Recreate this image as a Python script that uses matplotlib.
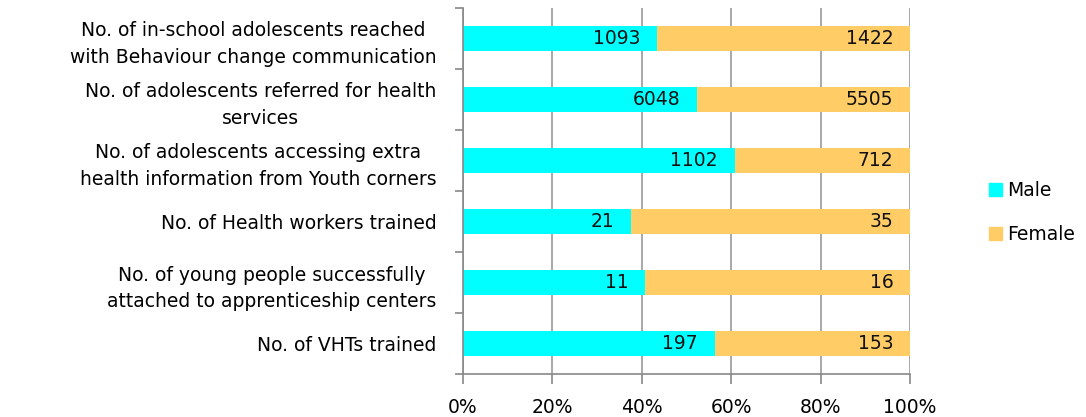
import matplotlib.pyplot as plt
import numpy as np
from matplotlib.patches import Patch
from matplotlib.ticker import PercentFormatter, FixedLocator

categories = [
    "No. of in-school adolescents reached\nwith Behaviour change communication",
    "No. of adolescents referred for health\nservices",
    "No. of adolescents accessing extra\nhealth information from Youth corners",
    "No. of Health workers trained",
    "No. of young people successfully\nattached to apprenticeship centers",
    "No. of VHTs trained",
]
male = [1093, 6048, 1102, 21, 11, 197]
female = [1422, 5505, 712, 35, 16, 153]

male_col = "#00FFFF"
female_col = "#FFCC66"

plt.rcParams["font.family"] = "DejaVu Sans"
fs = 13.5

fig = plt.figure(figsize=(10.86, 4.17), dpi=100)
ax = fig.add_axes([0.4263, 0.103, 0.4116, 0.878])

m = np.array(male, dtype=float)
f = np.array(female, dtype=float)
tot = m + f
mp = m / tot * 100
fp = f / tot * 100
y = np.arange(len(categories))[::-1]

ax.barh(y, mp, height=0.41, color=male_col, zorder=2)
ax.barh(y, fp, left=mp, height=0.41, color=female_col, zorder=2)

# value labels just inside the end of each segment
for yi, a, b, mv, fv in zip(y, mp, fp, male, female):
    ax.annotate(str(mv), (a, yi), xytext=(-12, 0), textcoords="offset points",
                ha="right", va="center", fontsize=fs, color="#111111", zorder=3)
    ax.annotate(str(fv), (a + b, yi), xytext=(-12, 0), textcoords="offset points",
                ha="right", va="center", fontsize=fs, color="#111111", zorder=3)

ax.set_xlim(0, 100)
ax.set_ylim(-0.5, len(categories) - 0.5)
ax.set_xticks([0, 20, 40, 60, 80, 100])
ax.xaxis.set_major_formatter(PercentFormatter(decimals=0))
ax.grid(axis="x", color="#999999", linewidth=1.2, zorder=0)
ax.set_yticks(y)
ax.set_yticklabels(categories, fontsize=fs, linespacing=1.5, multialignment="center")
ax.yaxis.set_minor_locator(FixedLocator(np.arange(-0.5, len(categories), 1.0)))
ax.tick_params(axis="y", which="major", length=0, pad=19)
ax.tick_params(axis="y", which="minor", length=6, color="#888888", width=1.2)
ax.tick_params(axis="x", length=7, color="#888888", width=1.2, labelsize=fs, pad=10)

for side in ["top", "right"]:
    ax.spines[side].set_visible(False)
for side in ["left", "bottom"]:
    ax.spines[side].set_color("#888888")
    ax.spines[side].set_linewidth(1.2)

handles = [Patch(color=male_col, label="Male"), Patch(color=female_col, label="Female")]
fig.legend(handles=handles, loc="center left", bbox_to_anchor=(0.895, 0.49), frameon=False,
           fontsize=fs, handlelength=0.7, handleheight=0.7, handletextpad=0.3, labelspacing=1.3)

fig.savefig("out.png", dpi=100)
